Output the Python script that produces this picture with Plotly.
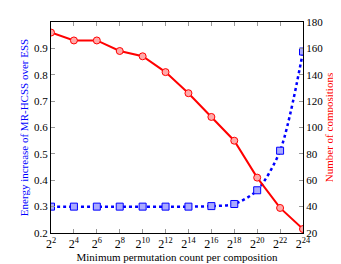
import plotly.graph_objects as go

exponents = [2, 4, 6, 8, 10, 12, 14, 16, 18, 20, 22, 24]
tick_labels = [f"2<sup>{e}</sup>" for e in exponents]
energy_increase = [0.3, 0.3, 0.3, 0.3, 0.3, 0.3, 0.3, 0.302, 0.31, 0.362, 0.512, 0.888]
num_compositions = [172, 166, 166, 158, 154, 142, 126, 108, 90, 62, 39, 23]

font = "Liberation Serif, Times New Roman, serif"

fig = go.Figure()
fig.add_trace(go.Scatter(
    x=exponents, y=energy_increase, yaxis="y", mode="lines+markers",
    line=dict(color="#0000ff", width=2.5, dash="dot", shape="spline", smoothing=0.8),
    marker=dict(symbol="square", size=7, color="#aaaaff", line=dict(color="#0000ff", width=1)),
    showlegend=False))
fig.add_trace(go.Scatter(
    x=exponents, y=num_compositions, yaxis="y2", mode="lines+markers",
    line=dict(color="#ff0000", width=2),
    marker=dict(symbol="circle", size=7, color="#ffaaaa", line=dict(color="#ff0000", width=1)),
    showlegend=False))

fig.update_layout(
    width=341, height=264,
    margin=dict(l=43, r=46, t=8, b=39),
    paper_bgcolor="white", plot_bgcolor="white",
    font=dict(family=font, size=11, color="black"),
    xaxis=dict(range=[2, 24], tickvals=exponents, ticktext=tick_labels,
               showgrid=False, zeroline=False, showline=True, linecolor="black", linewidth=1,
               mirror="ticks", ticks="inside", ticklen=4, tickcolor="#999999",
               tickfont=dict(size=12),
               title=dict(text="Minimum permutation count per composition", font=dict(size=11), standoff=0)),
    yaxis=dict(range=[0.2, 1.0], tickvals=[0.2, 0.3, 0.4, 0.5, 0.6, 0.7, 0.8, 0.9],
               ticktext=["0.2", "0.3", "0.4", "0.5", "0.6", "0.7", "0.8", "0.9"],
               showgrid=False, zeroline=False, showline=True, linecolor="black", linewidth=1,
               ticks="inside", ticklen=4, tickcolor="#999999",
               tickfont=dict(size=11),
               title=dict(text="Energy increase of MR-HCSS over ESS", font=dict(size=11, color="#0000ff"), standoff=3)),
    yaxis2=dict(range=[20, 180], tickvals=[20, 40, 60, 80, 100, 120, 140, 160, 180],
                overlaying="y", side="right",
                showgrid=False, zeroline=False, showline=True, linecolor="black", linewidth=1,
                ticks="inside", ticklen=4, tickcolor="#999999",
                tickfont=dict(size=11),
                title=dict(text="Number of compositions", font=dict(size=11, color="#ff0000"), standoff=3)),
)

fig.write_html("out.html")
